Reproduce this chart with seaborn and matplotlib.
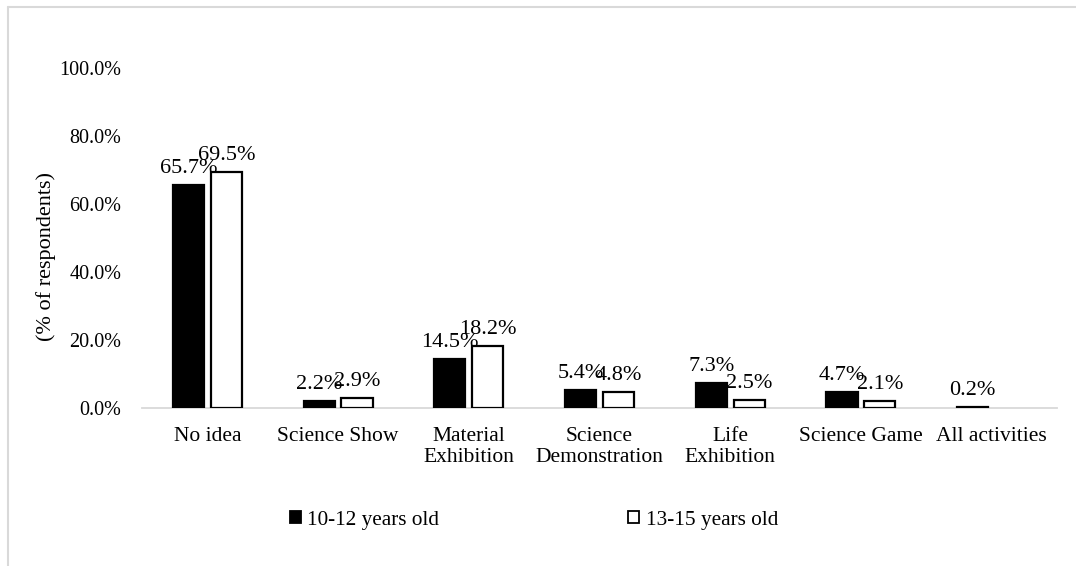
import numpy as np
import pandas as pd
import matplotlib
matplotlib.use("Agg")
import matplotlib.pyplot as plt
from matplotlib.lines import Line2D
from matplotlib.patches import Patch
from matplotlib.ticker import FuncFormatter
import seaborn as sns

# Categories and shares of respondents (%) per age group
categories = ["No idea", "Science Show", "Material\nExhibition",
              "Science\nDemonstration", "Life\nExhibition", "Science Game",
              "All activities"]
groups = ["10-12 years old", "13-15 years old"]
age_10_12 = [65.7, 2.2, 14.5, 5.4, 7.3, 4.7, 0.2]
age_13_15 = [69.5, 2.9, 18.2, 4.8, 2.5, 2.1, np.nan]

df = pd.DataFrame({
    "category": categories * 2,
    "group": [groups[0]] * len(categories) + [groups[1]] * len(categories),
    "value": age_10_12 + age_13_15,
})

sns.set_theme(style="white")
plt.rcParams["font.family"] = ["Liberation Serif", "DejaVu Serif"]
FS_TICK = 14.5
FS_CAT = 15.5
FS_LABEL = 16
FS_LEGEND = 15.3

fig = plt.figure(figsize=(10.76, 5.66), dpi=100)
ax = fig.add_axes([142 / 1076, 1 - 408 / 566, 915 / 1076, 340 / 566])

sns.barplot(data=df, x="category", y="value", hue="group",
            order=categories, hue_order=groups,
            palette=["black", "white"], edgecolor="black", linewidth=1.6,
            width=0.58, gap=0.18, errorbar=None, legend=False, ax=ax)

# value labels above every drawn bar
for cont in ax.containers:
    vals = cont.datavalues
    labels = ["" if np.isnan(v) else f"{v:.1f}%" for v in vals]
    ax.bar_label(cont, labels=labels, padding=5, fontsize=FS_LABEL,
                 color="black")

ax.set_xlim(-0.5, len(categories) - 0.5)
ax.set_ylim(0, 100)
ax.set_yticks([0, 20, 40, 60, 80, 100])
ax.yaxis.set_major_formatter(FuncFormatter(lambda v, p: f"{v:.1f}%"))
ax.tick_params(axis="y", length=0, pad=15, labelsize=FS_TICK,
               labelcolor="black")
ax.tick_params(axis="x", length=0, pad=14, labelsize=FS_CAT,
               labelcolor="black")
for lbl in ax.get_xticklabels():
    lbl.set_linespacing(1.1)
ax.set_xlabel("")
ax.set_ylabel("(% of respondents)", fontsize=FS_LABEL, color="black")
ax.yaxis.set_label_coords(-0.094, 0.445)

for side in ("left", "right", "top"):
    ax.spines[side].set_visible(False)
ax.spines["bottom"].set_color("#d9d9d9")
ax.spines["bottom"].set_linewidth(1.3)
ax.spines["bottom"].set_zorder(0)
ax.grid(False)

# legend with small square keys
handles = [Patch(facecolor="black", edgecolor="black", linewidth=1.3),
           Patch(facecolor="white", edgecolor="black", linewidth=1.3)]
fig.legend(handles, groups, loc="center", ncol=2,
           bbox_to_anchor=(534 / 1076, 1 - 520 / 566),
           frameon=False, fontsize=FS_LEGEND, handlelength=0.52,
           handleheight=0.52, handletextpad=0.3, columnspacing=8.9,
           labelcolor="black")

# chart area border
border = "#d9d9d9"
fig.add_artist(Line2D([8 / 1076, 8 / 1076], [0, 1 - 7 / 566],
                      transform=fig.transFigure, color=border, linewidth=1.5))
fig.add_artist(Line2D([8 / 1076, 1], [1 - 7 / 566, 1 - 7 / 566],
                      transform=fig.transFigure, color=border, linewidth=1.5))

fig.savefig("out.png", dpi=100, facecolor="white")
